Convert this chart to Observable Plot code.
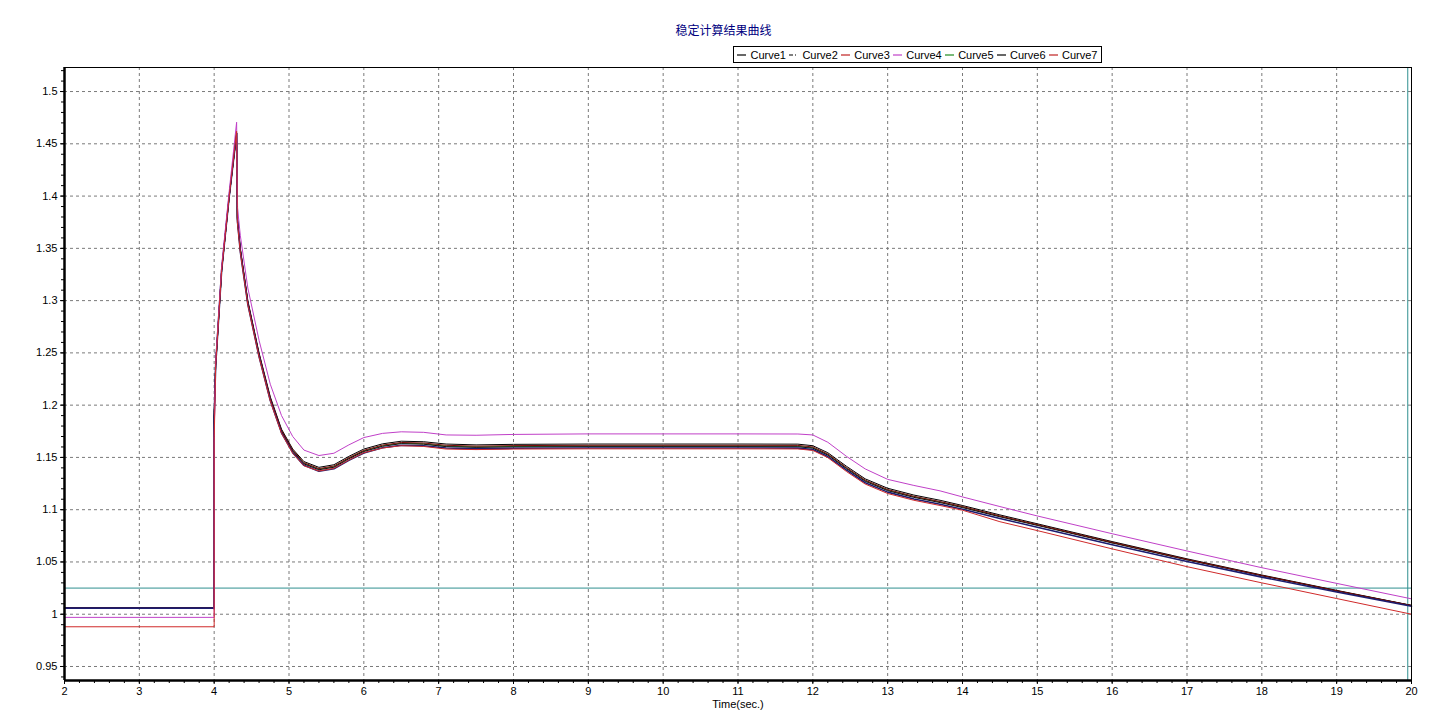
<!DOCTYPE html>
<html><head><meta charset="utf-8">
<script src="https://cdn.jsdelivr.net/npm/d3@7"></script>
<script src="https://cdn.jsdelivr.net/npm/@observablehq/plot@0.6"></script>
<style>
body{margin:0;background:#fff;font-family:"Liberation Sans",Arial,sans-serif}
#wrap{position:relative;width:1455px;height:724px}
#title{position:absolute;top:21px;left:0;width:1447px;text-align:center;color:#000080;font-size:12px;font-family:"Noto Sans CJK SC","Liberation Sans",sans-serif}
#legend{position:absolute;left:733px;top:46px;width:369px;height:17px;box-sizing:border-box;border:1px solid #000;background:#fff;display:flex;align-items:center;justify-content:space-evenly;font-size:11px;color:#000}
#legend span.it{display:flex;align-items:center;gap:4px}
#plot{position:absolute;left:0;top:0}
</style></head>
<body>
<div id="wrap">
<div id="plot"></div>
<div id="title"></div>
<div id="legend"></div>
</div>
<script>
const chartTitle = "稳定计算结果曲线";
const xLabel = "Time(sec.)";
const names = ["Curve1","Curve2","Curve3","Curve4","Curve5","Curve6","Curve7"];
const xTicks = [2,3,4,5,6,7,8,9,10,11,12,13,14,15,16,17,18,19,20];
const yTicks = [0.95,1,1.05,1.1,1.15,1.2,1.25,1.3,1.35,1.4,1.45,1.5];
const yTickLabels = ["0.95","1","1.05","1.1","1.15","1.2","1.25","1.3","1.35","1.4","1.45","1.5"];
const refLevel = [1.025];
const refTime = [19.95];

const T = [2,4,4,4.02,4.1,4.2,4.3,4.31,4.35,4.45,4.6,4.75,4.9,5.05,5.2,5.4,5.6,5.8,6.0,6.25,6.5,6.8,7.1,7.5,8,9,10,11,11.8,12,12.2,12.45,12.7,13.0,13.35,13.7,14.0,14.5,15,16,17,18,19,20];

const curve1 = [1.0062,1.0062,1.1900,1.2380,1.3290,1.3990,1.4600,1.3800,1.3500,1.3000,1.2500,1.2080,1.1770,1.1580,1.1460,1.1405,1.1430,1.1510,1.1580,1.1630,1.1655,1.1650,1.1628,1.1620,1.1625,1.1628,1.1628,1.1628,1.1627,1.1612,1.1545,1.1415,1.1295,1.1205,1.1140,1.1090,1.1040,1.0950,1.0865,1.0695,1.0530,1.0375,1.0228,1.0085];
const curve2 = [1.0058,1.0058,1.1880,1.2380,1.3290,1.3990,1.4600,1.3770,1.3465,1.2965,1.2465,1.2045,1.1735,1.1545,1.1424,1.1368,1.1392,1.1472,1.1542,1.1592,1.1617,1.1612,1.1590,1.1582,1.1587,1.1590,1.1590,1.1590,1.1589,1.1575,1.1508,1.1378,1.1258,1.1168,1.1102,1.1052,1.1005,1.0915,1.0832,1.0665,1.0505,1.0355,1.0212,1.0077];
const curve3 = [1.0060,1.0060,1.1900,1.2380,1.3290,1.3990,1.4600,1.3790,1.3490,1.2990,1.2490,1.2070,1.1760,1.1570,1.1449,1.1393,1.1418,1.1498,1.1568,1.1618,1.1643,1.1638,1.1616,1.1608,1.1613,1.1616,1.1616,1.1616,1.1615,1.1600,1.1533,1.1403,1.1283,1.1193,1.1128,1.1078,1.1030,1.0940,1.0857,1.0688,1.0524,1.0371,1.0225,1.0084];
const curve4 = [0.9970,0.9970,1.1700,1.2420,1.3330,1.4040,1.4706,1.3900,1.3620,1.3120,1.2620,1.2200,1.1900,1.1700,1.1570,1.1518,1.1540,1.1620,1.1690,1.1730,1.1745,1.1740,1.1715,1.1712,1.1720,1.1725,1.1725,1.1725,1.1724,1.1715,1.1645,1.1510,1.1390,1.1290,1.1232,1.1180,1.1122,1.1030,1.0940,1.0770,1.0605,1.0445,1.0295,1.0147];
const curve5 = [1.0060,1.0060,1.1890,1.2380,1.3290,1.3990,1.4600,1.3785,1.3485,1.2985,1.2485,1.2065,1.1755,1.1565,1.1443,1.1387,1.1411,1.1492,1.1562,1.1611,1.1637,1.1631,1.1608,1.1601,1.1605,1.1608,1.1608,1.1608,1.1607,1.1593,1.1527,1.1397,1.1277,1.1187,1.1123,1.1073,1.1025,1.0936,1.0853,1.0685,1.0522,1.0370,1.0224,1.0083];
const curve6 = [1.0061,1.0061,1.1890,1.2380,1.3290,1.3990,1.4600,1.3780,1.3480,1.2980,1.2480,1.2060,1.1750,1.1560,1.1438,1.1382,1.1406,1.1487,1.1557,1.1606,1.1632,1.1626,1.1603,1.1596,1.1600,1.1603,1.1603,1.1603,1.1602,1.1588,1.1522,1.1392,1.1272,1.1182,1.1118,1.1068,1.1020,1.0932,1.0850,1.0682,1.0520,1.0368,1.0222,1.0082];
const curve7 = [0.9880,0.9880,1.1650,1.2380,1.3290,1.3990,1.4620,1.3750,1.3460,1.2960,1.2460,1.2040,1.1730,1.1540,1.1420,1.1370,1.1395,1.1475,1.1545,1.1590,1.1612,1.1605,1.1580,1.1575,1.1580,1.1582,1.1582,1.1582,1.1581,1.1567,1.1498,1.1365,1.1245,1.1155,1.1090,1.1040,1.0995,1.0885,1.0800,1.0625,1.0455,1.0300,1.0150,1.0000];

const series = [curve1,curve2,curve3,curve4,curve5,curve6,curve7];
const colors = ["#000000","#1c1c70","#7a0a0a","#c040c8","#1e8c1e","#111111","#d02a2a"];
const widths = [1,1.6,1,1,1,1,1];
const legendColors = ["#000000","#000000","#c02020","#c040c8","#1e8c1e","#000000","#c02020"];
const drawOrder = [4,0,5,2,1,3,6];

const yMinor = d3.range(94, 153).map(d => d / 100);
const xMinor = d3.range(10, 101).map(d => d / 5);
const yDomain = [0.9366, 1.523];
const teal = "#2f8f8f";

const lineMarks = drawOrder.map(i =>
  Plot.line(T.map((t, j) => ({t, v: series[i][j]})), {x: "t", y: "v", stroke: colors[i], strokeWidth: widths[i]})
);

const chart = Plot.plot({
  width: 1455, height: 724,
  marginTop: 67, marginRight: 44, marginBottom: 44, marginLeft: 64,
  x: {domain: [2, 20]},
  y: {domain: yDomain},
  style: {fontFamily: "'Liberation Sans', Arial, sans-serif", fontSize: "11px", color: "#000", background: "#fff"},
  marks: [
    Plot.gridY(yTicks, {stroke: "#7a7a7a", strokeOpacity: 1, strokeDasharray: "3,3"}),
    Plot.gridX(xTicks.slice(1, -1), {stroke: "#7a7a7a", strokeOpacity: 1, strokeDasharray: "3,3"}),
    Plot.ruleY(refLevel, {stroke: teal, strokeWidth: 1}),
    Plot.ruleX(refTime, {stroke: teal, strokeWidth: 1}),
    ...lineMarks,
    Plot.frame({stroke: "#000", strokeWidth: 1}),
    Plot.ruleX([2], {stroke: "#000", strokeWidth: 2.5}),
    Plot.ruleY([yDomain[0]], {stroke: "#000", strokeWidth: 2.5}),
    Plot.axisY(yTicks, {tickSize: 4, tickPadding: 3, label: null, tickFormat: d => yTickLabels[yTicks.indexOf(d)]}),
    Plot.axisY(yMinor, {tickSize: 3, label: null, tickFormat: () => ""}),
    Plot.axisX(xTicks, {tickSize: 4, tickPadding: 3, label: null, tickFormat: d => String(d)}),
    Plot.axisX(xMinor, {tickSize: 3, label: null, tickFormat: () => ""}),
    Plot.text([xLabel], {text: d => d, frameAnchor: "bottom", dy: 27, fill: "#000"})
  ]
});
document.getElementById("plot").appendChild(chart);
document.getElementById("title").textContent = chartTitle;

const leg = document.getElementById("legend");
names.forEach((n, i) => {
  const it = document.createElement("span");
  it.className = "it";
  const dash = i === 1 ? 'stroke-dasharray="4,2,1,2"' : "";
  it.innerHTML = `<svg width="9" height="6"><line x1="0" y1="3" x2="9" y2="3" stroke="${legendColors[i]}" stroke-width="1.2" ${dash}/></svg><span>${n}</span>`;
  leg.appendChild(it);
});
</script>
</body></html>
